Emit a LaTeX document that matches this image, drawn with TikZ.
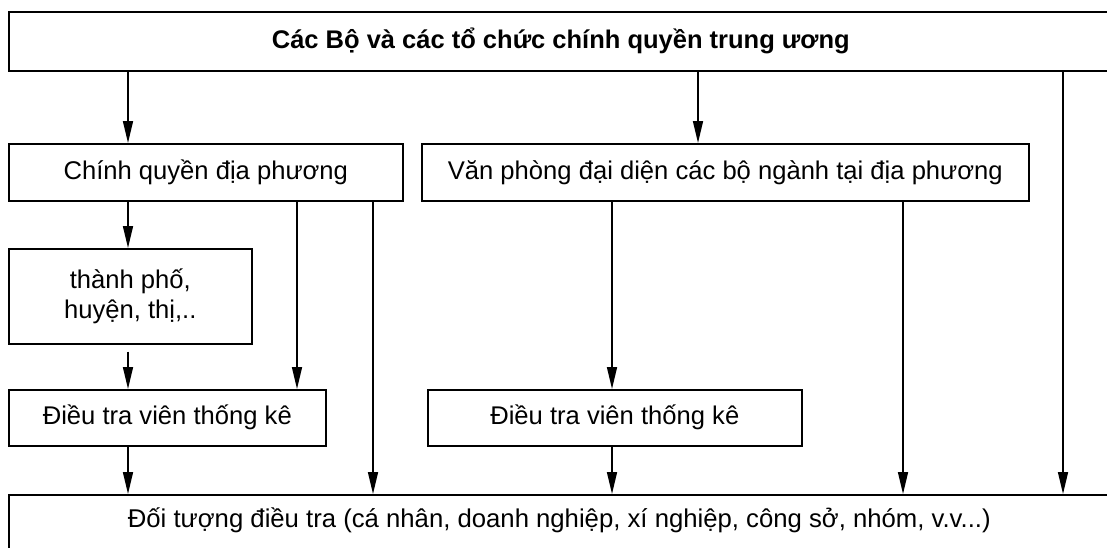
\documentclass[tikz,border=0pt]{standalone}
\usepackage{fontspec}
\setmainfont{Liberation Sans}
\usetikzlibrary{arrows.meta}
\begin{document}
\begin{tikzpicture}[x=1pt,y=-1pt,
  box/.style={draw,line width=1.6pt,inner sep=0pt,font=\fontsize{25.6}{30}\selectfont,align=center},
  arr/.style={line width=1.6pt,-{Triangle[length=22pt,width=10pt]}}]
\useasboundingbox (0,0) rectangle (1107,547);
\clip (0,0) rectangle (1107,547);
% boxes
\node[box,anchor=north west,minimum width=1104pt,minimum height=59pt,font=\fontsize{25.5}{30}\selectfont\bfseries] (top) at (8,11) {Các Bộ và các tổ chức chính quyền trung ương};
\node[box,anchor=north west,minimum width=394pt,minimum height=57pt] (cq) at (8,143) {Chính quyền địa phương};
\node[box,anchor=north west,minimum width=607pt,minimum height=57pt] (vp) at (421,143) {Văn phòng đại diện các bộ ngành tại địa phương};
\node[box,anchor=north west,minimum width=243pt,minimum height=95pt] (tp) at (8,248) {thành phố,\\huyện, thị,..};
\node[box,anchor=north west,minimum width=317pt,minimum height=56pt] (dt1) at (8,389) {Điều tra viên thống kê};
\node[box,anchor=north west,minimum width=374pt,minimum height=56pt] (dt2) at (427,389) {Điều tra viên thống kê};
\node[box,anchor=north west,minimum width=1101pt,minimum height=64pt,text height=17pt,text depth=15pt,font=\fontsize{25.7}{30}\selectfont] (obj) at (8,494) {Đối tượng điều tra (cá nhân, doanh nghiệp, xí nghiệp, công sở, nhóm, v.v...)};
% x positions
\coordinate (xa) at (128,0);
\coordinate (xb) at (297,0);
\coordinate (xc) at (373,0);
\coordinate (xd) at (612,0);
\coordinate (xe) at (698,0);
\coordinate (xf) at (903,0);
\coordinate (xg) at (1063,0);
% arrows
\draw[arr] (top.south -| xa) -- (cq.north -| xa);
\draw[arr] (top.south -| xe) -- (vp.north -| xe);
\draw[arr] (top.south -| xg) -- (obj.north -| xg);
\draw[arr] (cq.south -| xa) -- (tp.north -| xa);
\draw[arr] (cq.south -| xb) -- (dt1.north -| xb);
\draw[arr] (cq.south -| xc) -- (obj.north -| xc);
\draw[arr,shorten <=7pt] (tp.south -| xa) -- (dt1.north -| xa);
\draw[arr] (dt1.south -| xa) -- (obj.north -| xa);
\draw[arr] (vp.south -| xd) -- (dt2.north -| xd);
\draw[arr] (vp.south -| xf) -- (obj.north -| xf);
\draw[arr] (dt2.south -| xd) -- (obj.north -| xd);
\end{tikzpicture}
\end{document}
